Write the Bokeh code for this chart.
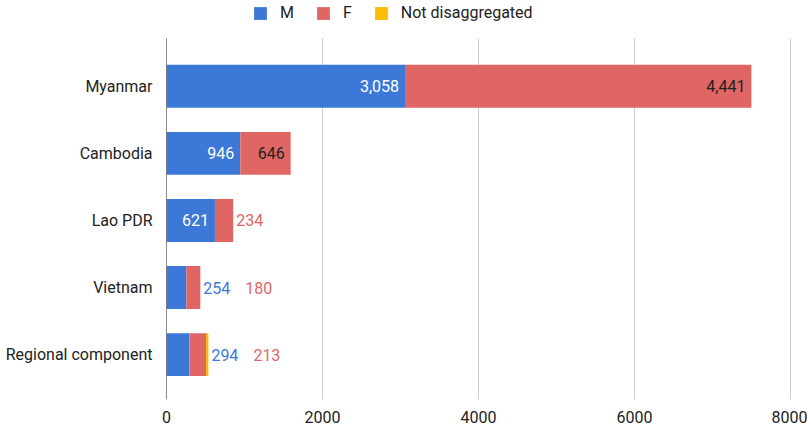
from bokeh.plotting import figure
from bokeh.models import Legend, LegendItem, FixedTicker, ColumnDataSource, Range1d
from bokeh.core.properties import value
from bokeh.embed import file_html
from bokeh.resources import INLINE

categories = ["Myanmar", "Cambodia", "Lao PDR", "Vietnam", "Regional component"]
m_values = [3058, 946, 621, 254, 294]
f_values = [4441, 646, 234, 180, 213]
nd_values = [0, 0, 0, 0, 30]
x_ticks = [0, 2000, 4000, 6000, 8000]

BLUE = "#3C78D8"
RED = "#E06666"
YELLOW = "#FBBC04"
FONT = "Roboto"
TEXT = "#222222"

W, HGT = 807, 425
B_LEFT, B_RIGHT, B_TOP, B_BOTTOM = 166, 16, 0, 25
FRAME_W = W - B_LEFT - B_RIGHT
X_END = 8013
px_per_unit = FRAME_W / X_END

ys = list(range(len(categories)))
Y_TOP, Y_BOTTOM = -1.279, 4.669   # frame extent in category units
GRID_TOP = -0.714                 # gridlines start below the legend strip

p = figure(width=W, height=HGT,
           x_range=Range1d(0, X_END), y_range=Range1d(Y_BOTTOM, Y_TOP),
           output_backend="svg", toolbar_location=None,
           min_border_left=B_LEFT, min_border_right=B_RIGHT,
           min_border_top=B_TOP, min_border_bottom=B_BOTTOM)
p.outline_line_color = None
p.background_fill_color = "white"
p.xgrid.grid_line_color = None
p.ygrid.grid_line_color = None

# vertical gridlines (stopping below the legend)
n = len(x_ticks)
p.segment(x0=x_ticks, y0=[GRID_TOP] * n, x1=x_ticks, y1=[Y_BOTTOM] * n,
          line_color="#CCCCCC", line_width=1)

m_left = [0] * len(ys)
m_right = m_values
f_left = m_values
f_right = [m + f for m, f in zip(m_values, f_values)]
n_left = f_right
n_right = [t + v for t, v in zip(f_right, nd_values)]

H = 0.64
rm = p.hbar(y=ys, left=m_left, right=m_right, height=H, color=BLUE, line_color=None)
rf = p.hbar(y=ys, left=f_left, right=f_right, height=H, color=RED, line_color=None)
rn = p.hbar(y=ys, left=n_left, right=n_right, height=H, color=YELLOW, line_color=None)

# baseline at zero
p.segment(x0=[0], y0=[GRID_TOP], x1=[0], y1=[Y_BOTTOM], line_color="#333333", line_width=1)

# value labels
in_x, in_y, in_t, in_c = [], [], [], []
out_x, out_y, out_t, out_c, out_off = [], [], [], [], []
for i, y in enumerate(ys):
    k = 0
    for seg_left, seg_right, val, inside_col, col in (
        (m_left[i], m_right[i], m_values[i], "white", BLUE),
        (f_left[i], f_right[i], f_values[i], TEXT, RED),
    ):
        txt = f"{val:,}"
        seg_px = (seg_right - seg_left) * px_per_unit
        if seg_px > len(txt) * 9 + 8:
            in_x.append(seg_right); in_y.append(y); in_t.append(txt); in_c.append(inside_col)
        else:
            out_x.append(n_right[i]); out_y.append(y); out_t.append(txt); out_c.append(col)
            out_off.append(3 + k * 42)
            k += 1

src_in = ColumnDataSource(dict(x=in_x, y=in_y, t=in_t, c=in_c))
p.text(x="x", y="y", text="t", text_color="c", source=src_in, text_align="right",
       text_baseline="middle", x_offset=-6, text_font=value(FONT), text_font_size="16px")
src_out = ColumnDataSource(dict(x=out_x, y=out_y, t=out_t, c=out_c, o=out_off))
p.text(x="x", y="y", text="t", text_color="c", source=src_out, text_align="left",
       text_baseline="middle", x_offset="o", text_font=value(FONT), text_font_size="16px")

# axes
p.xaxis.ticker = FixedTicker(ticks=x_ticks)
p.xaxis.axis_line_color = None
p.xaxis.major_tick_line_color = None
p.xaxis.minor_tick_line_color = None
p.xaxis.major_label_standoff = 5
p.xaxis.major_label_text_font = FONT
p.xaxis.major_label_text_font_size = "16px"
p.xaxis.major_label_text_color = TEXT

p.yaxis.ticker = FixedTicker(ticks=ys)
p.yaxis.major_label_overrides = {i: c for i, c in enumerate(categories)}
p.yaxis.axis_line_color = None
p.yaxis.major_tick_line_color = None
p.yaxis.minor_tick_line_color = None
p.yaxis.major_label_standoff = 8
p.yaxis.major_label_text_font = FONT
p.yaxis.major_label_text_font_size = "16px"
p.yaxis.major_label_text_color = TEXT

legend = Legend(items=[LegendItem(label="M", renderers=[rm]),
                       LegendItem(label="F", renderers=[rf]),
                       LegendItem(label="Not disaggregated", renderers=[rn])],
                orientation="horizontal", location=(86, 377),
                glyph_width=16, glyph_height=16, label_standoff=12, spacing=21,
                padding=0, margin=0, border_line_alpha=0, background_fill_alpha=0,
                label_text_font=FONT, label_text_font_size="16px", label_text_color=TEXT,
                label_height=16, label_width=8)
p.add_layout(legend, "center")

open("out.html", "w").write(file_html(p, INLINE))
